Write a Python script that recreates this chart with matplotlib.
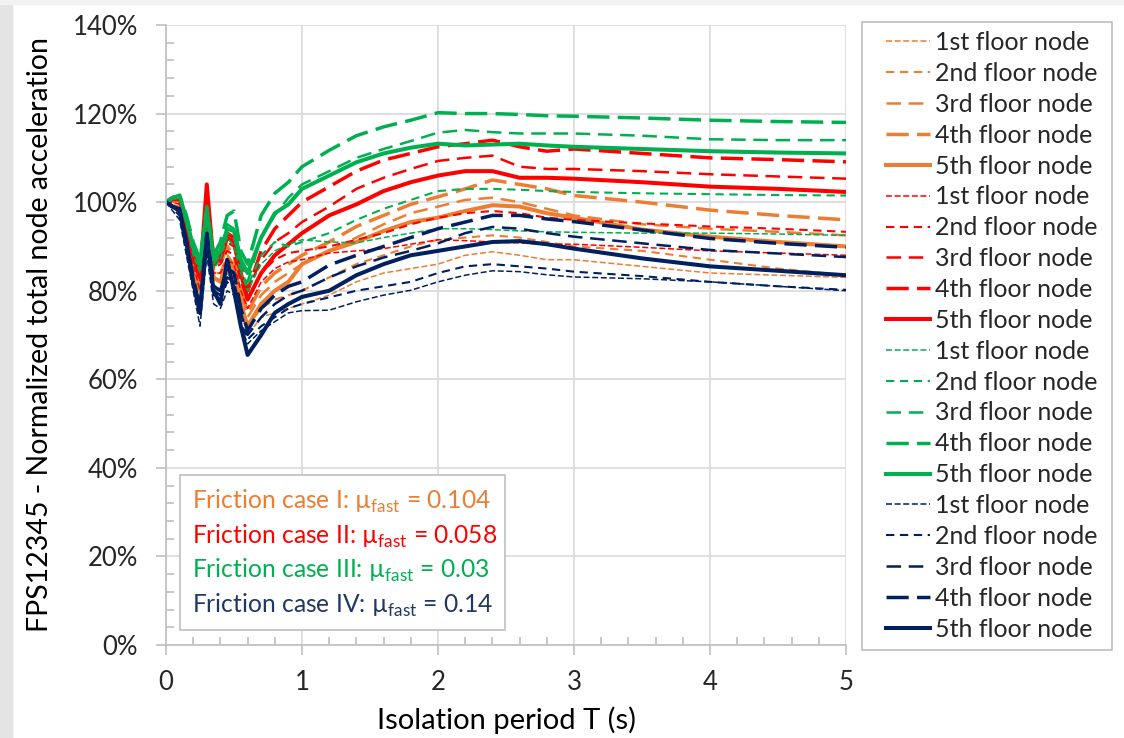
import matplotlib
matplotlib.use('Agg')
import matplotlib.pyplot as plt
from matplotlib.patches import Rectangle
from matplotlib.ticker import MultipleLocator, FuncFormatter

plt.rcParams['font.family'] = ['Lato', 'DejaVu Sans']
plt.rcParams['mathtext.fontset'] = 'custom'
plt.rcParams['mathtext.rm'] = 'Lato'
plt.rcParams['lines.scale_dashes'] = False

# isolation period (s)
T = [0, 0.05, 0.1, 0.15, 0.2, 0.25, 0.3, 0.35, 0.4, 0.45, 0.5, 0.55, 0.6, 0.7, 0.8, 0.9,
     1.0, 1.2, 1.4, 1.6, 1.8, 2.0, 2.2, 2.4, 2.6, 2.8, 3.0, 3.5, 4.0, 4.5, 5.0]

# friction case I (mu_fast = 0.104)
o1 = [100, 99.5, 99, 92, 84, 78, 90, 80, 80, 84, 82, 76, 70, 74, 75, 76, 77, 79, 82, 84, 85, 86, 88, 88.8, 88, 87, 87, 85.5, 84, 83.5, 83]
o2 = [100, 100, 100, 93, 86, 80, 92, 82, 82, 86, 84, 78, 72, 76, 78, 79, 80, 83, 86, 88, 90, 91.5, 92, 92.5, 92, 91, 90, 89, 87, 85, 83.5]
o3 = [100, 100.5, 100.5, 94, 87, 81, 93, 84, 84, 88, 86, 80, 74, 79, 82, 84, 86, 89, 92, 95, 97.5, 99, 100.5, 101, 100, 98.5, 97, 95, 94, 93.3, 92.5]
o4 = [100, 101, 101, 95, 88, 82, 95, 85, 86, 90, 88, 81, 75, 81, 84, 86, 88, 91, 94.5, 97, 99.5, 101.2, 103, 105, 104, 103, 101.5, 100, 98.2, 97, 96]
o5 = [100, 100.5, 100.5, 93, 86, 80, 92, 83, 82, 87, 85, 77, 72, 77, 80, 82, 86, 89, 91, 93.5, 95.5, 96.5, 98, 99.3, 99, 97.5, 96.5, 93.8, 92.2, 91, 90]

# friction case II (mu_fast = 0.058)
r1 = [100, 100, 99.5, 93, 86, 80, 95, 84, 84, 87, 86, 80, 76, 82, 85, 86.5, 87, 88.5, 89, 89.5, 90.5, 91.5, 91.3, 91, 90.8, 90.5, 90.5, 89.8, 89, 88.5, 88]
r2 = [100, 100.5, 100, 94, 87, 82, 97, 85, 86, 89, 88, 82, 78, 84, 87, 88.5, 89, 90, 91.5, 93, 95, 96.5, 97.5, 98, 97.5, 96.5, 96, 95.2, 94.5, 94, 93.3]
r3 = [100, 100.5, 100.5, 95, 88, 83, 99, 87, 88, 91, 90, 84, 80, 87, 91, 93, 95.5, 99, 103, 105.5, 107.5, 109.3, 110, 110.5, 108, 107.5, 107.5, 107, 106.3, 105.8, 105.3]
r4 = [100, 101, 101, 96, 89, 84, 101, 88, 89, 93, 92, 85, 80, 89, 94, 97, 100, 103.5, 107, 109.5, 111, 112.5, 113.2, 114, 112.5, 111.5, 112, 111, 110, 109.6, 109.1]
r5 = [100, 101, 101, 95, 88, 83, 104, 86, 87, 92, 91, 84, 78, 84, 88, 90.5, 93, 97, 99.5, 102.5, 104.5, 106, 107, 107, 105.5, 105.5, 105.3, 104.5, 103.5, 103, 102.3]

# friction case III (mu_fast = 0.03)
g1 = [100, 100.5, 101, 95, 88, 84, 96, 85, 87, 92, 90, 84, 80, 86, 89, 90.5, 91.5, 91, 90.8, 92, 93, 94, 94, 93.8, 93.5, 93.3, 93.2, 93, 93, 92.8, 92.5]
g2 = [100, 101, 101.5, 96, 89, 85, 97, 86, 88, 93, 92, 85, 81, 88, 91, 90, 91, 93, 96, 98.5, 100.5, 102.5, 103, 103, 102.8, 102.5, 102.3, 102, 101.8, 101.6, 101.5]
g3 = [100, 101, 101.5, 96, 90, 86, 98, 87, 89, 95, 94, 87, 82, 92, 97, 101, 104, 107, 110, 112, 113.8, 115.7, 116.3, 115.8, 115.5, 115.5, 115.5, 115, 114.2, 114, 114]
g4 = [100, 101, 101.5, 97, 91, 87, 99, 88, 91, 97, 98, 89, 86, 97, 102, 104.5, 108, 111.7, 115, 117, 118.5, 120.2, 120, 120, 119.8, 119.5, 119.4, 119, 118.5, 118.2, 118]
g5 = [100, 101, 101.5, 96, 90, 86, 98, 87, 89, 94, 93.5, 87, 84, 92, 97.5, 99.5, 103, 106, 109, 111, 112.3, 113.2, 112.8, 113, 113.2, 112.8, 112.5, 112, 111.5, 111.2, 111]

# friction case IV (mu_fast = 0.14)
n1 = [100, 98, 96, 88, 80, 72, 88, 77, 76, 80, 79, 72, 68, 71, 73, 75, 75.5, 75.6, 77.5, 79, 80.1, 82, 83.5, 84.5, 84.3, 83.6, 83.1, 82.7, 82, 81, 80]
n2 = [100, 98.5, 97, 89, 81, 74, 90, 79, 78, 82, 80, 73, 69, 72, 74, 76, 77, 78.5, 80, 81, 82, 84, 85.5, 86, 85.5, 85, 84.3, 83.3, 82, 81, 80.2]
n3 = [100, 99, 98, 90, 82, 75, 92, 80, 79, 83, 82, 75, 70, 74, 77, 79, 80, 83, 85.5, 87.5, 89, 90.7, 93, 94.4, 94, 93, 92.2, 90.7, 89.2, 88.4, 87.6]
n4 = [100, 99, 98.5, 91, 83, 76, 93, 81, 80, 85, 84, 76, 71, 76, 79, 81, 82, 85.8, 88, 90, 92, 94, 95.5, 97, 97, 96.2, 95.6, 93.7, 91.8, 90.7, 89.8]
n5 = [100, 99, 98, 91, 82, 75, 92, 80, 77, 87, 80, 72, 65.5, 70, 75, 77, 78.6, 80, 83.5, 86, 88, 89, 90, 91, 91.2, 90.5, 89.5, 87.3, 85.5, 84.5, 83.5]

floor_labels = ['1st floor node', '2nd floor node', '3rd floor node', '4th floor node', '5th floor node']
case_labels = ['Friction case I: ', 'Friction case II: ', 'Friction case III: ', 'Friction case IV: ']
mu_fast = ['0.104', '0.058', '0.03', '0.14']

case_colors = ['#ED7D31', '#FF0000', '#00B050', '#002060']
text_colors = ['#ED7D31', '#FF0000', '#00B050', '#203864']
cases = [[o1, o2, o3, o4, o5], [r1, r2, r3, r4, r5], [g1, g2, g3, g4, g5], [n1, n2, n3, n4, n5]]

# dash patterns in points (scale_dashes off) and widths per floor
floor_dashes = [(0, (4.3, 1.9)), (0, (6.0, 4.0)), (0, (10.5, 5.5)), (0, (16, 6)), 'solid']
floor_lw = [1.1, 1.5, 1.8, 2.5, 2.9]

fig = plt.figure(figsize=(11.24, 7.38), dpi=100)
fig.patches.append(Rectangle((0, 0), 12/1124, 1, transform=fig.transFigure, color='#E4E4E4', zorder=0))
fig.patches.append(Rectangle((0, 1-4/738), 1, 4/738, transform=fig.transFigure, color='#F2F2F2', zorder=0))

ax = fig.add_axes([166/1124, 1-645/738, 680/1124, 620/738])

handles = []
for ci, series in enumerate(cases):
    for fi, vals in enumerate(series):
        ln, = ax.plot(T, vals, color=case_colors[ci], lw=floor_lw[fi],
                      linestyle=floor_dashes[fi], label=floor_labels[fi],
                      solid_joinstyle='round', dash_capstyle='butt')
        handles.append(ln)

ax.set_xlim(0, 5)
ax.set_ylim(0, 140)
ax.xaxis.set_major_locator(MultipleLocator(1))
ax.xaxis.set_minor_locator(MultipleLocator(0.2))
ax.yaxis.set_major_locator(MultipleLocator(20))
ax.yaxis.set_minor_locator(MultipleLocator(4))
ax.yaxis.set_major_formatter(FuncFormatter(lambda v, p: f'{v:.0f}%'))
ax.grid(True, which='major', color='#D9D9D9', lw=1.2)
ax.set_axisbelow(True)
for s in ['top', 'right']:
    ax.spines[s].set_visible(False)
for s in ['left', 'bottom']:
    ax.spines[s].set_color('#BFBFBF')
    ax.spines[s].set_linewidth(1.2)
ax.tick_params(which='major', direction='out', length=7, color='#BFBFBF', width=1.2,
               labelsize=18.5, labelcolor='#262626')
ax.tick_params(which='minor', direction='in', length=6, color='#BFBFBF', width=1.2)
ax.tick_params(axis='y', which='major', pad=13)
ax.tick_params(axis='x', which='major', pad=11)
ax.set_xlabel('Isolation period T (s)', fontsize=21, color='#000000', labelpad=8)
ax.set_ylabel('FPS12345 - Normalized total node acceleration', fontsize=20.5, color='#000000', labelpad=14)

# friction case box
ax.add_patch(Rectangle((0.0206, 0.024), 0.478, 0.25, transform=ax.transAxes,
                       facecolor='white', edgecolor='#BFBFBF', lw=1.2, zorder=5))
line_y = [0.231, 0.175, 0.120, 0.064]
for i in range(4):
    ax.text(0.038, line_y[i], case_labels[i] + '\u00b5$_{\\mathregular{fast}}$ = ' + mu_fast[i],
            transform=ax.transAxes, color=text_colors[i], fontsize=17.7, va='center', zorder=6)

# legend, frame drawn separately
fig.patches.append(Rectangle((862/1124, 1-650/738), 250/1124, 628/738, transform=fig.transFigure,
                             facecolor='white', edgecolor='#BFBFBF', lw=1.2, zorder=1))
leg = fig.legend(handles=handles, loc='upper left', bbox_to_anchor=(886/1124, 1-31/738),
                 frameon=False, fontsize=18, handlelength=1.75, handletextpad=0.2,
                 labelspacing=0.315, borderpad=0, borderaxespad=0)
for t in leg.get_texts():
    t.set_color('#262626')

fig.savefig('out.png', dpi=100, facecolor='white')
